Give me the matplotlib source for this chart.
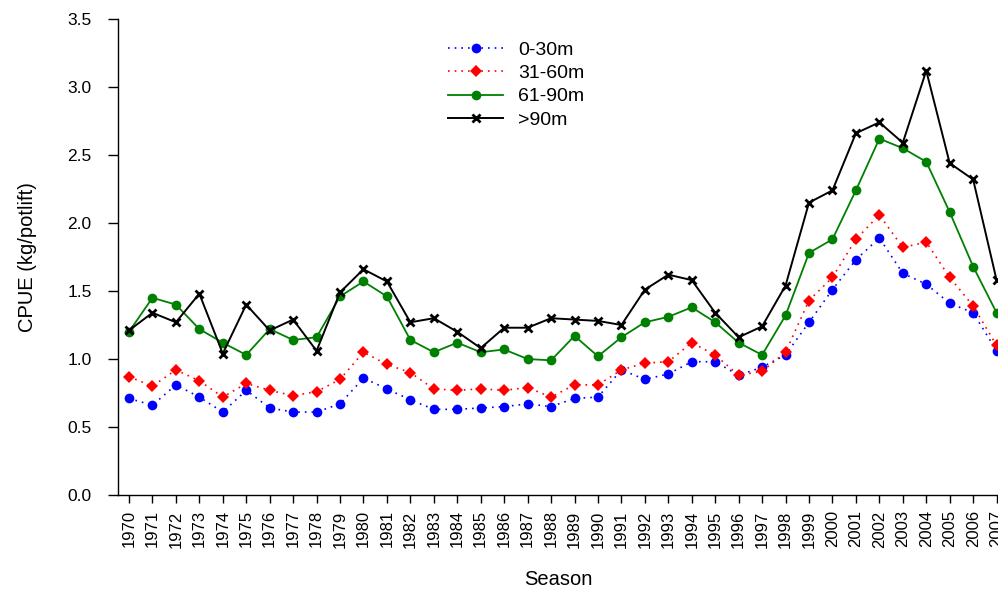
import matplotlib
matplotlib.use("Agg")
import matplotlib.pyplot as plt
import numpy as np

plt.rcParams["font.family"] = ["Liberation Sans", "DejaVu Sans"]

seasons = list(range(1970, 2008))

depth_0_30 = [0.71, 0.66, 0.81, 0.72, 0.61, 0.77, 0.64, 0.61, 0.61, 0.67,
              0.86, 0.78, 0.70, 0.63, 0.63, 0.64, 0.65, 0.67, 0.65, 0.71,
              0.72, 0.92, 0.85, 0.89, 0.98, 0.98, 0.88, 0.94, 1.03, 1.27,
              1.51, 1.73, 1.89, 1.63, 1.55, 1.41, 1.34, 1.06]
depth_31_60 = [0.87, 0.80, 0.92, 0.84, 0.72, 0.82, 0.77, 0.73, 0.76, 0.85,
               1.05, 0.96, 0.90, 0.78, 0.77, 0.78, 0.77, 0.79, 0.72, 0.81,
               0.81, 0.92, 0.97, 0.98, 1.12, 1.03, 0.88, 0.91, 1.05, 1.43,
               1.60, 1.88, 2.06, 1.82, 1.86, 1.60, 1.39, 1.10]
depth_61_90 = [1.20, 1.45, 1.40, 1.22, 1.12, 1.03, 1.22, 1.14, 1.16, 1.46,
               1.57, 1.46, 1.14, 1.05, 1.12, 1.05, 1.07, 1.00, 0.99, 1.17,
               1.02, 1.16, 1.27, 1.31, 1.38, 1.27, 1.12, 1.03, 1.32, 1.78,
               1.88, 2.24, 2.62, 2.55, 2.45, 2.08, 1.68, 1.34]
depth_over_90 = [1.21, 1.34, 1.27, 1.48, 1.04, 1.40, 1.21, 1.29, 1.06, 1.49,
                 1.66, 1.57, 1.27, 1.30, 1.20, 1.08, 1.23, 1.23, 1.30, 1.29,
                 1.28, 1.25, 1.51, 1.62, 1.58, 1.34, 1.16, 1.24, 1.54, 2.15,
                 2.24, 2.66, 2.74, 2.59, 3.12, 2.44, 2.32, 1.58]

series_labels = ["0-30m", "31-60m", "61-90m", ">90m"]

fig = plt.figure(figsize=(9.98, 5.90), dpi=100)
ax = fig.add_axes([0.1182, 0.161, 0.8818, 0.8068])

ax.plot(seasons, depth_0_30, color="blue", linestyle=(0, (1, 3)), linewidth=1.2,
        marker="o", markersize=7, markeredgewidth=0, label=series_labels[0], zorder=3)
ax.plot(seasons, depth_31_60, color="red", linestyle=(0, (1, 3)), linewidth=1.2,
        marker="D", markersize=6.5, markeredgewidth=0, label=series_labels[1], zorder=4)
ax.plot(seasons, depth_61_90, color="#008000", linestyle="-", linewidth=1.3,
        marker="o", markersize=7, markeredgewidth=0, label=series_labels[2], zorder=5)
ax.plot(seasons, depth_over_90, color="black", linestyle="-", linewidth=1.4,
        marker="x", markersize=6, markeredgewidth=2, label=series_labels[3], zorder=6)

ax.set_xlim(1969.53, 2007.06)
ax.set_ylim(0, 3.5)
ax.set_xticks(seasons)
ax.set_xticklabels([str(s) for s in seasons], rotation=90, fontsize=12)
ax.set_yticks(np.arange(0, 3.51, 0.5))
ax.set_yticklabels([f"{v:.1f}" for v in np.arange(0, 3.51, 0.5)], fontsize=12.5)
ax.tick_params(axis="x", direction="out", length=6, width=1, pad=5)
ax.tick_params(axis="y", direction="out", length=7, width=1, pad=12)

for side in ("top", "right"):
    ax.spines[side].set_visible(False)
ax.spines["left"].set_linewidth(1)
ax.spines["bottom"].set_linewidth(1)

ax.set_ylabel("CPUE (kg/potlift)", fontsize=14.5, labelpad=22)
ax.set_xlabel("Season", fontsize=14.5, labelpad=16)

leg = ax.legend(loc="upper left", bbox_to_anchor=(448 / 998, 1 - 41 / 590),
                bbox_transform=fig.transFigure, frameon=False, fontsize=14,
                handlelength=2.85, handletextpad=0.75, labelspacing=0.3,
                borderaxespad=0, borderpad=0)

fig.savefig("out.png", dpi=100)
